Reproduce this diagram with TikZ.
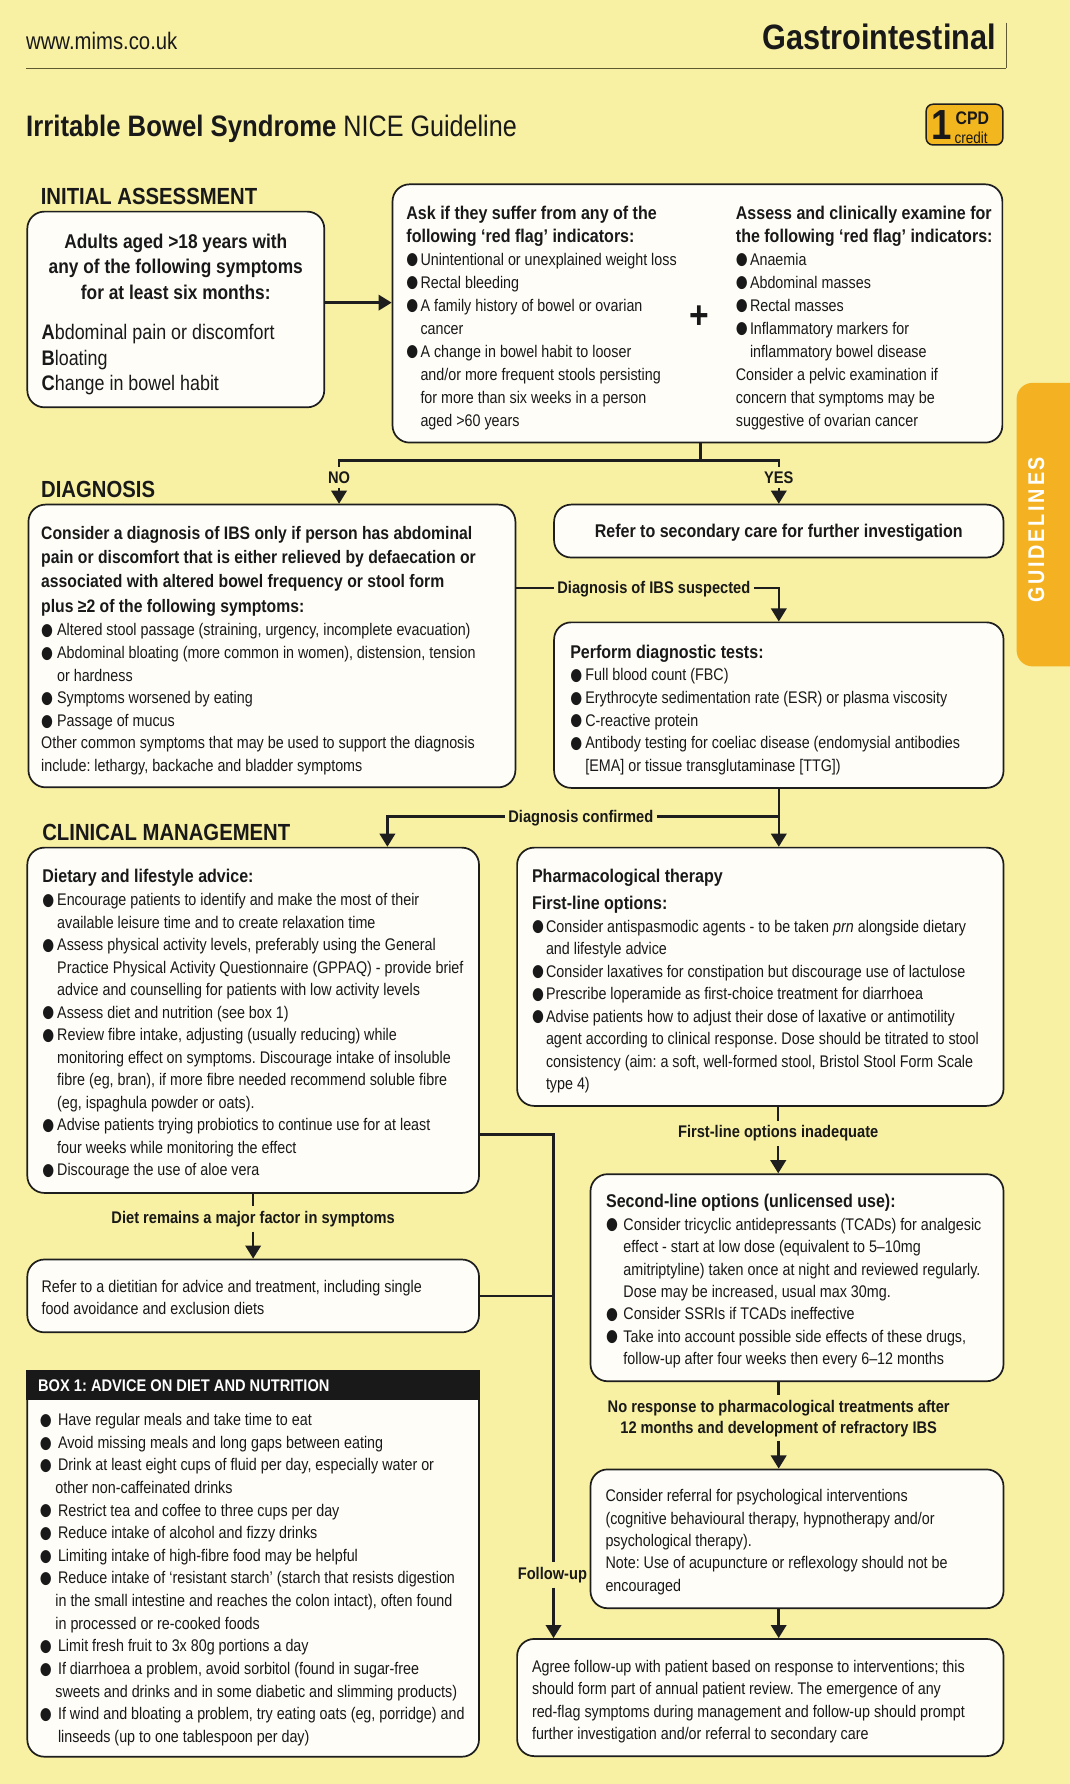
\documentclass[tikz,border=0pt]{standalone}
\usepackage{fontspec}
\setmainfont{Liberation Sans}[FakeStretch=0.85]
\newfontfamily\bff{Liberation Sans}[FakeStretch=0.87]
\newfontfamily\bulf{DejaVu Sans}[FakeStretch=0.8]
\newfontfamily\tabf{Liberation Sans}[FakeStretch=0.87,LetterSpace=12]
\usetikzlibrary{arrows.meta}
\definecolor{bgc}{RGB}{248,240,162}
\definecolor{tabc}{RGB}{244,178,35}
\definecolor{badgec}{RGB}{242,183,30}
\definecolor{textc}{RGB}{25,25,25}
\definecolor{linec}{RGB}{30,30,30}
\definecolor{boxc}{RGB}{254,253,248}
\definecolor{rulec}{RGB}{95,90,50}
\frenchspacing
\newlength\bw
\newcommand\bulg{\raisebox{0.3pt}{\bulf\fontsize{15}{15}\selectfont ●}}
\newcommand\bl{\makebox[\bw][l]{\bulg}}
\newcommand\ii{\hspace*{\bw}}
\newcommand\B[1]{{\bff\bfseries\fontsize{16.2}{19}\selectfont #1}}
\newcommand\Bd[1]{{\bff\bfseries\fontsize{15.9}{19}\selectfont #1}}
\newcommand\st{\rule{0pt}{12pt}}
\begin{document}
\begin{tikzpicture}[x=1pt,y=-1pt,
  box/.style={draw=linec, line width=1.5pt, rounded corners=15pt, fill=boxc, inner sep=0pt},
  txt/.style={anchor=north west, inner sep=0pt, align=left, text=textc, font=\fontsize{14.8}{#1}\selectfont},
  conn/.style={draw=linec, line width=2.2pt},
  arr/.style={conn, -{Triangle[width=13.5pt,length=11.5pt]}},
  lab/.style={anchor=base, inner xsep=3pt, inner ysep=4pt, text=textc, font=\bff\bfseries\fontsize{14.8}{18.6}\selectfont},
  head/.style={anchor=base west, inner sep=0pt, text=textc, font=\bff\bfseries\fontsize{20.5}{24}\selectfont}]
\useasboundingbox (0,0) rectangle (940,1568);
\fill[bgc] (0,0) rectangle (940,1568);

% header
\node[anchor=base west, inner sep=0pt, text=textc, font=\fontsize{21}{24}\selectfont] (url) at (22.8,43.3) {www.mims.co.uk};
\node[anchor=base east, inner sep=0pt, text=textc, font=\bff\bfseries\fontsize{31}{34}\selectfont] (gi) at (875.5,43.3) {Gastrointestinal};
\draw[rulec, line width=1.2pt] (22.8,60) -- (884.5,60);
\draw[rulec, line width=0.8pt] (884.5,19.9) -- (884.5,60);
\node[anchor=base west, inner sep=0pt, text=textc, font=\fontsize{26}{30}\selectfont] (title) at (22.8,120) {{\bff\bfseries Irritable Bowel Syndrome} NICE Guideline};
\node[draw=linec, line width=1.3pt, fill=badgec, rounded corners=6pt, minimum width=67.4pt, minimum height=35.8pt, inner sep=0pt] (cpd) at (847.7,109.5) {};
\node[inner sep=0pt, text=textc, font=\bff\bfseries\fontsize{37}{37}\selectfont] (one) at (827.5,110.3) {1};
\node[inner sep=0pt, text=textc, font=\bff\bfseries\fontsize{16}{16}\selectfont] (cpdt) at (854.7,104) {CPD};
\node[inner sep=0pt, text=textc, font=\fontsize{14}{14}\selectfont] (cred) at (853.6,121.5) {credit};

% side tab
\fill[tabc, rounded corners=14pt] (960,336.5) -- (893.5,336.5) -- (893.5,585.7) -- (960,585.7) -- cycle;
\node[rotate=90, inner sep=0pt, text=white, font=\tabf\bfseries\fontsize{20}{20}\selectfont] (tab) at (910.7,465.5) {GUIDELINES};

% section headings
\node[head] (h1) at (35.7,179.5) {INITIAL ASSESSMENT};
\node[head] (h2) at (36,437) {DIAGNOSIS};
\node[head] (h3) at (37,738.6) {CLINICAL MANAGEMENT};

% boxes
\node[box, minimum width=261pt, minimum height=172pt] (adults) at (154.5,272) {};
\node[box, minimum width=536pt, minimum height=227pt] (redflag) at (613,275.5) {};
\node[box, minimum width=428pt, minimum height=248.5pt] (diag) at (239,567.75) {};
\node[box, minimum width=395pt, minimum height=46.5pt, text height=11.7pt, text depth=0pt, text=textc, font=\bff\bfseries\fontsize{16.2}{19}\selectfont] (refer) at (684.5,466.75) {Refer to secondary care for further investigation};
\node[box, minimum width=395pt, minimum height=145.5pt] (perform) at (684.5,619.75) {};
\node[box, minimum width=397pt, minimum height=303.5pt] (diet) at (222.5,896.75) {};
\node[box, minimum width=427.5pt, minimum height=227pt] (pharm) at (668.25,858.5) {};
\node[box, minimum width=363pt, minimum height=182pt] (second) at (700.5,1123) {};
\node[box, minimum width=397pt, minimum height=64pt] (dietitian) at (222.5,1139) {};
\node[box, minimum width=397pt, minimum height=339pt] (box1) at (222.5,1374.5) {};
\node[fill=textc, minimum width=398.5pt, minimum height=26pt, inner sep=0pt, anchor=north] (box1h) at (222.5,1204.25) {};
\node[anchor=west, inner sep=0pt, text=white, font=\bff\bfseries\fontsize{14.8}{18}\selectfont] (box1t) at (33.3,1218.2) {BOX 1: ADVICE ON DIET AND NUTRITION};
\node[box, minimum width=363pt, minimum height=122pt] (psych) at (700.5,1352.5) {};
\node[box, minimum width=427.5pt, minimum height=103pt] (final) at (668.25,1492) {};

% texts
\node[anchor=north, inner sep=0pt, align=center, text=textc, font=\bff\bfseries\fontsize{17.5}{22.3}\selectfont] (adultsT) at (154.5,204.5) {\rule{0pt}{13.5pt}Adults aged >18 years with\\any of the following symptoms\\for at least six months:};
\node[txt=22.7, font=\fontsize{18.5}{22.7}\selectfont] (abc) at (36.4,283.5) {\rule{0pt}{14.5pt}{\bff\bfseries A}bdominal pain or discomfort\\{\bff\bfseries B}loating\\{\bff\bfseries C}hange in bowel habit};

\setlength\bw{12.4pt}
\node[txt=20.2] (rfL) at (357,180.6) {\st\B{Ask if they suffer from any of the}\\
\B{following ‘red flag’ indicators:}\\
\bl Unintentional or unexplained weight loss\\
\bl Rectal bleeding\\
\bl A family history of bowel or ovarian\\
\ii cancer\\
\bl A change in bowel habit to looser\\
\ii and/or more frequent stools persisting\\
\ii for more than six weeks in a person\\
\ii aged >60 years};
\node[txt=20.2] (rfR) at (646.6,180.6) {\st\B{Assess and clinically examine for}\\
\B{the following ‘red flag’ indicators:}\\
\bl Anaemia\\
\bl Abdominal masses\\
\bl Rectal masses\\
\bl Inflammatory markers for\\
\ii inflammatory bowel disease\\
Consider a pelvic examination if\\
concern that symptoms may be\\
suggestive of ovarian cancer};
\node[inner sep=0pt, text=textc, font=\bff\bfseries\fontsize{34}{34}\selectfont] (plus) at (615,278.5) {+};

\setlength\bw{14pt}
\node[txt=19.9] (diagT) at (36,461.8) {\st\Bd{Consider a diagnosis of IBS only if person has abdominal}\\[1.4pt]
\Bd{pain or discomfort that is either relieved by defaecation or}\\[1.4pt]
\Bd{associated with altered bowel frequency or stool form}\\[1.4pt]
\Bd{plus ≥2 of the following symptoms:}\\[1pt]
\bl Altered stool passage (straining, urgency, incomplete evacuation)\\
\bl Abdominal bloating (more common in women), distension, tension\\
\ii or hardness\\
\bl Symptoms worsened by eating\\
\bl Passage of mucus\\
Other common symptoms that may be used to support the diagnosis\\
include: lethargy, backache and bladder symptoms};

\setlength\bw{13.3pt}
\node[txt=19.9] (perfT) at (501,566.3) {\st\B{Perform diagnostic tests:}\\
\bl Full blood count (FBC)\\
\bl Erythrocyte sedimentation rate (ESR) or plasma viscosity\\
\bl C-reactive protein\\
\bl Antibody testing for coeliac disease (endomysial antibodies\\
\ii [EMA] or tissue transglutaminase [TTG])};

\setlength\bw{13.1pt}
\node[txt=19.8] (dietT) at (37,763.4) {\st\B{Dietary and lifestyle advice:}\\[0.6pt]
\bl Encourage patients to identify and make the most of their\\
\ii available leisure time and to create relaxation time\\
\bl Assess physical activity levels, preferably using the General\\
\ii Practice Physical Activity Questionnaire (GPPAQ) - provide brief\\
\ii advice and counselling for patients with low activity levels\\
\bl Assess diet and nutrition (see box 1)\\
\bl Review fibre intake, adjusting (usually reducing) while\\
\ii monitoring effect on symptoms. Discourage intake of insoluble\\
\ii fibre (eg, bran), if more fibre needed recommend soluble fibre\\
\ii (eg, ispaghula powder or oats).\\
\bl Advise patients trying probiotics to continue use for at least\\
\ii four weeks while monitoring the effect\\
\bl Discourage the use of aloe vera};

\setlength\bw{12.3pt}
\node[txt=19.75] (pharmT) at (467.4,763.8) {\st\B{Pharmacological therapy}\\[3.2pt]
\B{First-line options:}\\[0.7pt]
\bl Consider antispasmodic agents - to be taken \textit{prn} alongside dietary\\
\ii and lifestyle advice\\
\bl Consider laxatives for constipation but discourage use of lactulose\\
\bl Prescribe loperamide as first-choice treatment for diarrhoea\\
\bl Advise patients how to adjust their dose of laxative or antimotility\\
\ii agent according to clinical response. Dose should be titrated to stool\\
\ii consistency (aim: a soft, well-formed stool, Bristol Stool Form Scale\\
\ii type 4)};

\setlength\bw{15.3pt}
\node[txt=19.7] (secT) at (532.5,1048.8) {\st\B{Second-line options (unlicensed use):}\\[0.6pt]
\bl Consider tricyclic antidepressants (TCADs) for analgesic\\
\ii effect - start at low dose (equivalent to 5–10mg\\
\ii amitriptyline) taken once at night and reviewed regularly.\\
\ii Dose may be increased, usual max 30mg.\\
\bl Consider SSRIs if TCADs ineffective\\
\bl Take into account possible side effects of these drugs,\\
\ii follow-up after four weeks then every 6–12 months};

\node[txt=19.7] (psychT) at (532,1307.7) {\st Consider referral for psychological interventions\\
(cognitive behavioural therapy, hypnotherapy and/or\\
psychological therapy).\\
Note: Use of acupuncture or reflexology should not be\\
encouraged};

\node[txt=19.75] (finalT) at (467.4,1457.4) {\st Agree follow-up with patient based on response to interventions; this\\
should form part of annual patient review. The emergence of any\\
red-flag symptoms during management and follow-up should prompt\\
further investigation and/or referral to secondary care};

\node[txt=19.6] (dietitianT) at (36.3,1123.8) {\st Refer to a dietitian for advice and treatment, including single\\
food avoidance and exclusion diets};

\setlength\bw{16pt}
\node[txt=19.87] (box1T) at (34.8,1240.9) {\st\bl Have regular meals and take time to eat\\
\bl Avoid missing meals and long gaps between eating\\
\bl Drink at least eight cups of fluid per day, especially water or\\
\hspace*{13.7pt}other non-caffeinated drinks\\
\bl Restrict tea and coffee to three cups per day\\
\bl Reduce intake of alcohol and fizzy drinks\\
\bl Limiting intake of high-fibre food may be helpful\\
\bl Reduce intake of ‘resistant starch’ (starch that resists digestion\\
\hspace*{13.7pt}in the small intestine and reaches the colon intact), often found\\
\hspace*{13.7pt}in processed or re-cooked foods\\
\bl Limit fresh fruit to 3x 80g portions a day\\
\bl If diarrhoea a problem, avoid sorbitol (found in sugar-free\\
\hspace*{13.7pt}sweets and drinks and in some diabetic and slimming products)\\
\bl If wind and bloating a problem, try eating oats (eg, porridge) and\\
\ii linseeds (up to one tablespoon per day)};

% connector labels
\node[lab] (lno) at (298,424.7) {NO};
\node[lab] (lyes) at (684.5,424.7) {YES};
\node[lab] (lsus) at (574.7,521.9) {Diagnosis of IBS suspected};
\node[lab] (ldc) at (510.5,722.9) {Diagnosis confirmed};
\node[lab] (lfi) at (684,999.8) {First-line options inadequate};
\node[lab] (ldr) at (222.5,1075.3) {Diet remains a major factor in symptoms};
\node[lab] (lfu) at (485.5,1388.1) {Follow-up};
\node[anchor=north, inner xsep=3pt, inner ysep=3pt, align=center, text=textc, font=\bff\bfseries\fontsize{14.8}{18.6}\selectfont] (lnr) at (684.4,1226.3) {\rule{0pt}{12pt}No response to pharmacological treatments after\\12 months and development of refractory IBS};

% connectors
\coordinate (a1) at ([yshift=6pt]adults.east);
\draw[arr] (a1) -- (a1 -| redflag.west);
\coordinate (bj) at (615.5,404.7);
\coordinate (bn) at (298,404.7);
\coordinate (byes) at (684.5,404.7);
\draw[conn] (redflag.south -| bj) -- (bj);
\draw[conn] (lno.north) -- (bn) -- (byes) -- (lyes.north);
\draw[arr] (lno.south) -- (lno.south |- diag.north);
\draw[arr] (lyes.south) -- (lyes.south |- refer.north);
\coordinate (ysus) at (0,516.6);
\draw[conn] (diag.east |- ysus) -- (lsus.west |- ysus);
\draw[arr] (lsus.east |- ysus) -| (perform.north);
\coordinate (yconf) at (0,717.6);
\draw[arr] (perform.south) -- (perform.south |- pharm.north);
\draw[conn] (ldc.east |- yconf) -- (perform.south |- yconf);
\draw[arr] (ldc.west |- yconf) -| ([xshift=118pt]diet.north);
\draw[conn] (pharm.south -| lfi.north) -- (lfi.north);
\draw[arr] (lfi.south) -- (lfi.south |- second.north);
\draw[conn] (second.south -| lnr.north) -- (lnr.north);
\draw[arr] (lnr.south) -- (lnr.south |- psych.north);
\draw[arr] (psych.south -| lnr.south) -- (final.north -| lnr.south);
\draw[conn] (diet.south) -- (ldr.north);
\draw[arr] (ldr.south) -- (dietitian.north);
\coordinate (fu) at (486.5,997);
\draw[conn] (diet.east |- fu) -- (fu) -- (fu |- lfu.north);
\draw[conn] (dietitian.east) -- (dietitian.east -| fu);
\draw[arr] (fu |- lfu.south) -- (fu |- final.north);
\end{tikzpicture}
\end{document}
